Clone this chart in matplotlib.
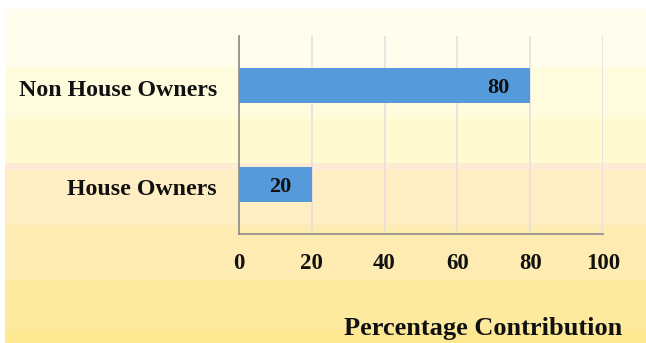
import matplotlib
matplotlib.use("Agg")
import matplotlib.pyplot as plt
import matplotlib.transforms as mtransforms
from matplotlib.patches import Rectangle

categories = ["House Owners", "Non House Owners"]
values = [20, 80]
xticks = [0, 20, 40, 60, 80, 100]
xlabel = "Percentage Contribution"

plt.rcParams['font.family'] = ['Liberation Serif', 'DejaVu Serif']
plt.rcParams['font.weight'] = 'bold'

W, H = 646, 343
fig = plt.figure(figsize=(W / 100, H / 100), dpi=100)
fig.patch.set_facecolor('white')

# banded gradient background (pixel rows from top)
bands = [
    (9, 67, '#FFFEEE'),
    (67, 118, '#FFFCDE'),
    (118, 163, '#FFFAD0'),
    (163, 170, '#FDEBD6'),
    (170, 225, '#FFEDC3'),
    (225, 280, '#FEEBB2'),
    (280, 330, '#FEEA9F'),
    (330, 343, '#FEE892'),
]
for top, bot, col in bands:
    fig.add_artist(Rectangle((5 / W, 1 - bot / H), 1 - 5 / W, (bot - top) / H,
                             transform=fig.transFigure, facecolor=col,
                             edgecolor='none', zorder=-10))

ax = fig.add_axes([239 / W, 1 - 234 / H, (603 - 239) / W, (234 - 36) / H])
ax.set_facecolor('none')

txtcol = '#111111'
bars = ax.barh(range(len(categories)), values, height=0.35, color='#559BDB', zorder=3)
ax.set_xlim(0, 100)
ax.set_ylim(-0.5, 1.5)
ax.set_yticks(range(len(categories)))
ax.set_yticklabels(categories, fontsize=17.2, fontweight='bold', color=txtcol)
ax.set_xticks(xticks)
ax.set_xticklabels([str(t) for t in xticks], fontsize=16.5, fontweight='bold', color=txtcol)
ax.tick_params(axis='y', length=0, pad=16)
ax.tick_params(axis='x', length=0, pad=14)

shift = mtransforms.ScaledTranslation(0, -2 / 72, fig.dpi_scale_trans)
for lab in ax.get_yticklabels():
    lab.set_transform(lab.get_transform() + shift)

ax.grid(axis='x', color='#E8DDE2', linewidth=1.2, zorder=0)
ax.grid(axis='y', visible=False)
for s in ['top', 'right']:
    ax.spines[s].set_visible(False)
ax.spines['left'].set_color('#8a8a8a')
ax.spines['bottom'].set_color('#8a8a8a')
ax.spines['left'].set_linewidth(1.2)
ax.spines['bottom'].set_linewidth(1.2)

for i, v in enumerate(values):
    ax.annotate(str(v), xy=(v, i), xytext=(-23, -1.8), textcoords='offset points',
                ha='center', va='center', fontsize=16, fontweight='bold',
                color=txtcol, zorder=4)

fig.text(622 / W, 1 - 329 / H, xlabel, ha='right', va='center', fontsize=19,
         fontweight='bold', color=txtcol)

fig.savefig('out.png', dpi=100)
